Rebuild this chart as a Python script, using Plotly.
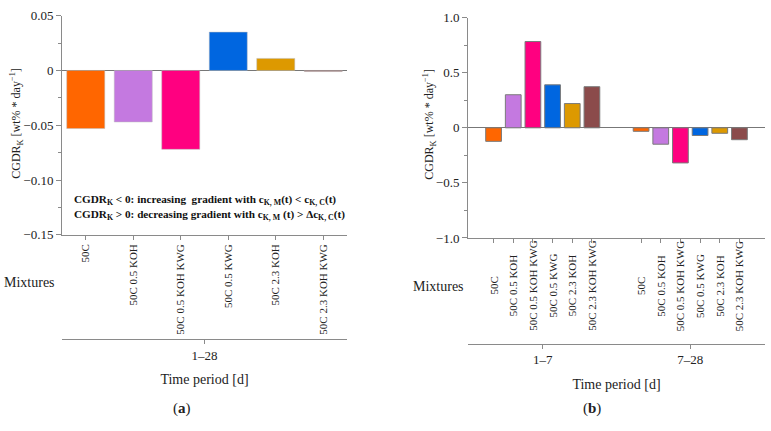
import plotly.graph_objects as go

W, H = 771, 431

mixtures = ["50C", "50C 0.5 KOH", "50C 0.5 KOH KWG", "50C 0.5 KWG", "50C 2.3 KOH", "50C 2.3 KOH KWG"]
colors = ["#FF6600", "#C479E0", "#FF0080", "#0066E0", "#DD9900", "#8B4B4B"]

# panel (a): period 1-28
period_a = "1–28"
values_a = [-0.053, -0.047, -0.072, 0.035, 0.011, -0.001]

# panel (b): periods 1-7 and 7-28
periods_b = ["1–7", "7–28"]
values_b_1_7 = [-0.123, 0.30, 0.783, 0.39, 0.22, 0.373]
values_b_7_28 = [-0.032, -0.149, -0.319, -0.070, -0.050, -0.108]

yticks_a = [0.05, 0, -0.05, -0.10, -0.15]
yticktext_a = ["0.05", "0", "−0.05", "−0.10", "−0.15"]
yticks_b = [1.0, 0.5, 0, -0.5, -1.0]
yticktext_b = ["1.0", "0.5", "0", "−0.5", "−1.0"]

FONT = "Liberation Serif"
AX = "#8a8a8a"
GROUP_GAP = 7.5
YTITLE = "CGDR<sub>K</sub> [wt% * day<sup>−1</sup>]"

def px(x):
    return x / W

def py(y):
    return 1 - y / H

fig = go.Figure()

fig.add_trace(go.Bar(x=mixtures, y=values_a, marker=dict(color=colors, line=dict(color="#bbbbbb", width=0.5)),
                     width=0.8, xaxis="x", yaxis="y", showlegend=False, hoverinfo="x+y"))

bx = []
by = []
bc = []
for g, vals in enumerate([values_b_1_7, values_b_7_28]):
    for i, v in enumerate(vals):
        bx.append(i + g * GROUP_GAP)
        by.append(v)
        bc.append(colors[i])
fig.add_trace(go.Bar(x=bx, y=by, marker=dict(color=bc, line=dict(color="#7a7a7a", width=1)),
                     width=0.8, xaxis="x2", yaxis="y2", showlegend=False))

# empty helper traces so that the period axes are drawn
fig.add_trace(go.Scatter(x=[None], y=[None], xaxis="x3", yaxis="y", showlegend=False, hoverinfo="skip"))
fig.add_trace(go.Scatter(x=[None], y=[None], xaxis="x4", yaxis="y2", showlegend=False, hoverinfo="skip"))

tickfont = dict(family=FONT, size=13, color="#222")
xtickfont = dict(family=FONT, size=11, color="#222")

fig.update_layout(
    width=W, height=H, margin=dict(l=0, r=0, t=0, b=0),
    paper_bgcolor="white", plot_bgcolor="white",
    font=dict(family=FONT, size=13, color="#222"),
    xaxis=dict(domain=[px(62), px(347)], anchor="y", type="category", range=[-0.5, 5.5],
               showline=True, linecolor=AX, linewidth=1, ticks="outside", ticklen=4, tickcolor=AX,
               tickangle=-90, tickfont=xtickfont, showgrid=False, zeroline=False),
    yaxis=dict(domain=[py(236), py(9)], anchor="x", range=[-0.15, 0.05],
               tickvals=yticks_a, ticktext=yticktext_a, tickfont=tickfont,
               showline=True, linecolor=AX, linewidth=1, ticks="outside", ticklen=5, tickcolor=AX,
               minor=dict(dtick=0.025, ticks="outside", ticklen=3, tickcolor=AX, showgrid=False),
               showgrid=False, zeroline=True, zerolinecolor="#777", zerolinewidth=1),
    xaxis3=dict(overlaying="x", anchor="free", position=py(344), side="bottom", type="linear", range=[-0.5, 5.5],
                tickvals=[2.5], ticktext=[period_a], showline=True, linecolor=AX, linewidth=1,
                ticks="outside", ticklen=4, tickcolor=AX, tickfont=tickfont, showgrid=False, zeroline=False,
                title=dict(text="Time period [d]", font=dict(family=FONT, size=14), standoff=12)),
    xaxis2=dict(domain=[px(468), px(765)], anchor="y2", type="linear", range=[-1.3, 5 + GROUP_GAP + 1.3],
                tickvals=bx, showticklabels=False,
                showline=True, linecolor=AX, linewidth=1, ticks="outside", ticklen=4, tickcolor=AX,
                showgrid=False, zeroline=False),
    yaxis2=dict(domain=[py(239.3), py(11)], anchor="x2", range=[-1, 1],
                tickvals=yticks_b, ticktext=yticktext_b, tickfont=tickfont,
                showline=True, linecolor=AX, linewidth=1, ticks="outside", ticklen=5, tickcolor=AX,
                minor=dict(dtick=0.25, ticks="outside", ticklen=3, tickcolor=AX, showgrid=False),
                showgrid=False, zeroline=True, zerolinecolor="#777", zerolinewidth=1),
    xaxis4=dict(overlaying="x2", anchor="free", position=py(349), side="bottom", type="linear",
                range=[-1.3, 5 + GROUP_GAP + 1.3],
                tickvals=[2.5, 2.5 + GROUP_GAP], ticktext=periods_b, showline=True, linecolor=AX, linewidth=1,
                ticks="outside", ticklen=4, tickcolor=AX, tickfont=tickfont, showgrid=False, zeroline=False,
                title=dict(text="Time period [d]", font=dict(family=FONT, size=14), standoff=12)),
)

ann = []
# tick labels of panel (b), vertically centred
for x, lab in zip(bx, mixtures * 2):
    ann.append(dict(x=x, xref="x2", y=py(289), yref="paper", text=lab, textangle=-90, showarrow=False,
                    xanchor="center", yanchor="middle", font=xtickfont))
ann.append(dict(x=px(17), y=py(121), xref="paper", yref="paper", text=YTITLE, textangle=-90, showarrow=False,
                xanchor="center", yanchor="middle", font=dict(family=FONT, size=12)))
ann.append(dict(x=px(430), y=py(122), xref="paper", yref="paper", text=YTITLE, textangle=-90, showarrow=False,
                xanchor="center", yanchor="middle", font=dict(family=FONT, size=12)))
ann.append(dict(x=px(29), y=py(285), xref="paper", yref="paper", text="Mixtures", showarrow=False,
                xanchor="center", yanchor="middle", font=dict(family=FONT, size=14)))
ann.append(dict(x=px(438), y=py(290), xref="paper", yref="paper", text="Mixtures", showarrow=False,
                xanchor="center", yanchor="middle", font=dict(family=FONT, size=14)))
ann.append(dict(x=px(182), y=py(416), xref="paper", yref="paper", text="(<b>a</b>)", showarrow=False,
                xanchor="center", yanchor="middle", font=dict(family=FONT, size=15)))
ann.append(dict(x=px(592), y=py(416), xref="paper", yref="paper", text="(<b>b</b>)", showarrow=False,
                xanchor="center", yanchor="middle", font=dict(family=FONT, size=15)))
ann.append(dict(x=px(72), y=py(208), xref="paper", yref="paper", xanchor="left", yanchor="middle", align="left",
                showarrow=False, font=dict(family=FONT, size=11.2, color="#111"),
                text="<b>CGDR<sub>K</sub> < 0: increasing  gradient with c<sub>K, M</sub>(t) < c<sub>K, C</sub>(t)</b><br>"
                     "<b>CGDR<sub>K</sub> > 0: decreasing gradient with c<sub>K, M</sub> (t) > Δc<sub>K, C</sub>(t)</b>"))
fig.update_layout(annotations=ann)

fig.write_html("out.html")
